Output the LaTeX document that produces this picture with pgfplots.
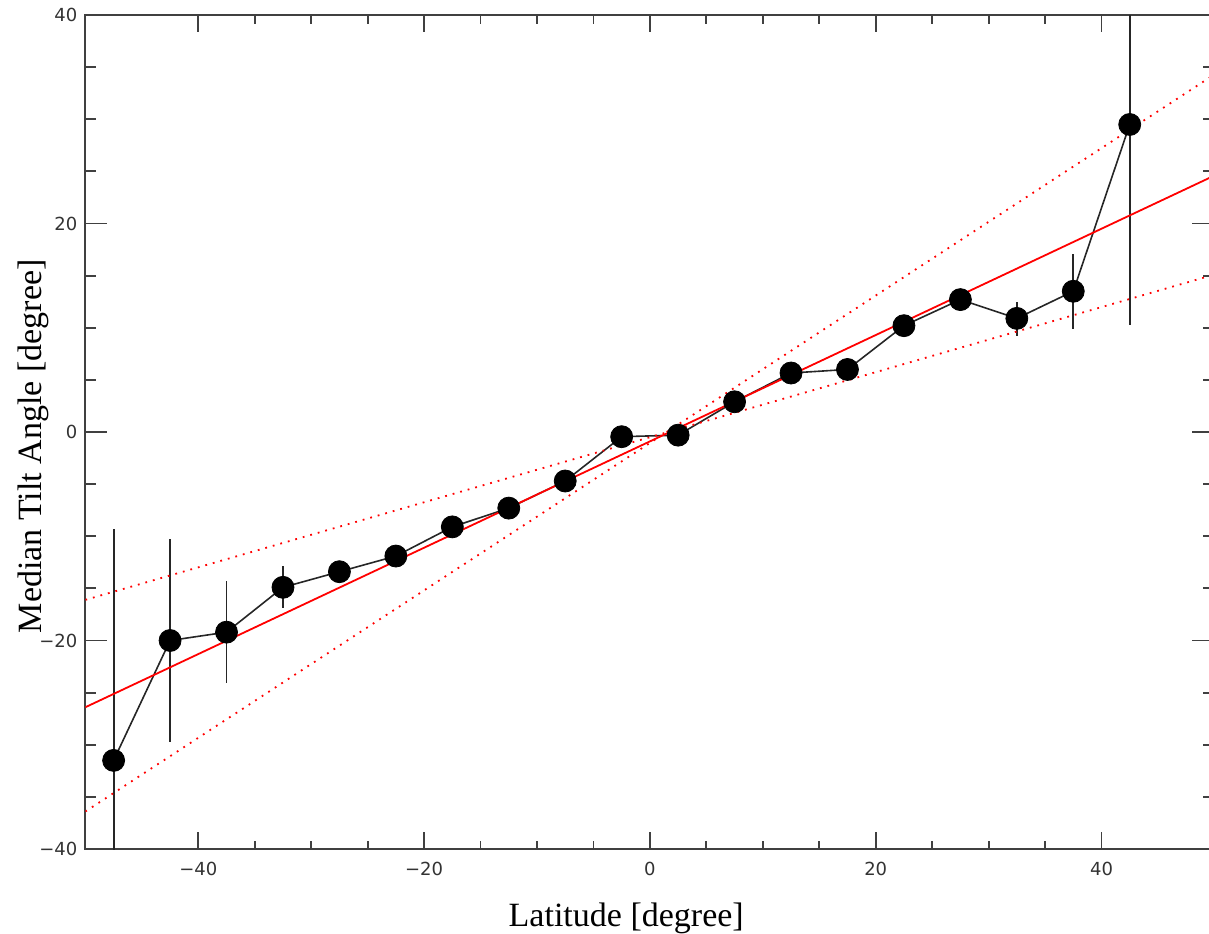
\documentclass[border=0pt]{standalone}
\usepackage{pgfplots}
\pgfplotsset{compat=1.18}
\usepackage{pgfplotstable}
\usepackage{fontspec}
\setmainfont{Liberation Serif}
\newfontfamily\ticksfont{DejaVu Sans}

\pgfplotstableread{
x y ep em
-47.5 -31.5 22.2 15
-42.5 -20.0 9.7 9.7
-37.5 -19.2 4.9 4.9
-32.5 -14.9 2.0 2.0
-27.5 -13.4 1.0 1.0
-22.5 -11.9 0.8 0.8
-17.5 -9.1 0.8 0.8
-12.5 -7.3 0.6 0.6
-7.5 -4.7 0.5 0.5
-2.5 -0.45 0.5 0.5
2.5 -0.3 0.5 0.5
7.5 2.9 0.6 0.6
12.5 5.66 0.7 0.7
17.5 6.0 0.8 0.8
22.5 10.2 0.9 0.9
27.5 12.7 1.0 1.0
32.5 10.9 1.6 1.7
37.5 13.5 3.6 3.65
42.5 29.5 15 19.2
}\tilt

\begin{document}
\begin{tikzpicture}
\begin{axis}[
  name=ax, at={(0,0)}, anchor=south west,
  scale only axis, width=564.5pt, height=417pt,
  xmin=-50, xmax=50, ymin=-40, ymax=40,
  xtick={-40,-20,0,20,40}, ytick={-40,-20,0,20,40},
  xticklabels={−40,−20,0,20,40}, yticklabels={−40,−20,0,20,40},
  minor x tick num=3, minor y tick num=3,
  tick align=inside,
  axis line style={draw=black!75, line width=0.9pt},
  major tick length=11pt, minor tick length=5.5pt,
  major x tick style={/pgfplots/major tick length=8.5pt},
  minor x tick style={/pgfplots/minor tick length=4.25pt},
  every tick/.style={black!75, line width=0.9pt},
  tick label style={font=\fontsize{9}{10}\ticksfont, text=black!80},
  xticklabel style={yshift=-3pt},
  yticklabel style={xshift=-0.5pt},
]
\addplot[black!85, line width=0.8pt, mark=*, mark size=5.5pt,
  mark options={fill=black, draw=black, line width=0.4pt},
  error bars/.cd, y dir=both, y explicit,
  error bar style={line width=0.9pt, black!85}, error mark=none]
  table[x=x, y=y, y error plus=ep, y error minus=em] {\tilt};
\addplot[red, line width=0.9pt] coordinates {(-50,-26.4) (50,24.6)};
\addplot[red, line width=0.9pt, dash pattern=on 0.9pt off 3pt] coordinates {(-50,-36.4) (50,34.3)};
\addplot[red, line width=0.9pt, dash pattern=on 0.9pt off 3pt] coordinates {(-50,-16.1) (50,15.1)};
\end{axis}
\node[anchor=base, font=\fontsize{17}{20}\selectfont] at (270.4pt,-38.5pt) {Latitude [degree]};
\node[anchor=base, rotate=90, font=\fontsize{17}{20}\selectfont] at (-21.85pt,201.4pt) {Median Tilt Angle [degree]};
\pgfresetboundingbox
\useasboundingbox (-42.7pt,-42pt) rectangle (561.8pt,424.5pt);
\end{tikzpicture}
\end{document}
